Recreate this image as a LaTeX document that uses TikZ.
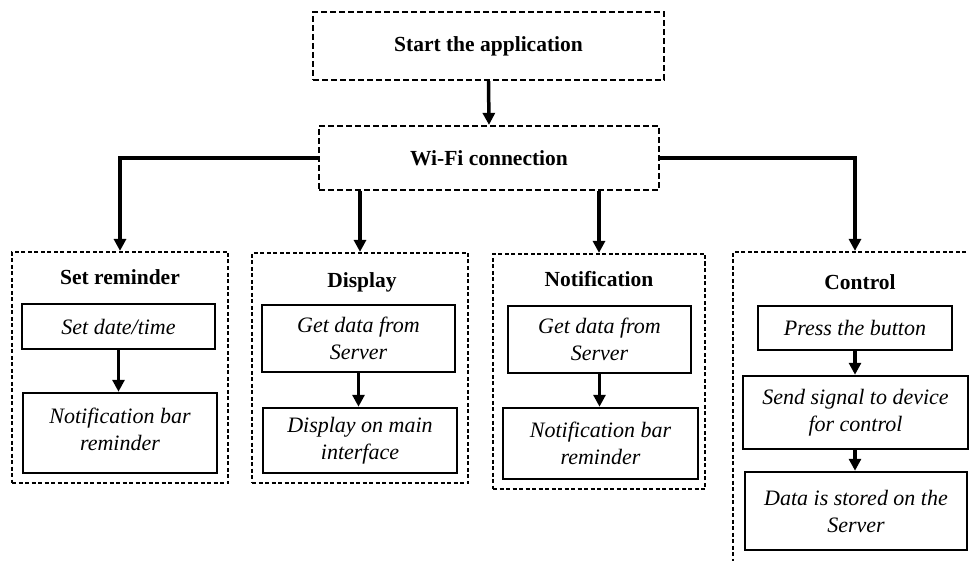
\documentclass[tikz,border=0pt]{standalone}
\usepackage{fontspec}
\setmainfont{Liberation Serif}
\usetikzlibrary{arrows.meta}

\tikzset{topbox/.style={draw,dash pattern=on 6pt off 3pt,line width=2.2pt,font=\fontsize{21.5}{26}\selectfont\bfseries},
groupbox/.style={draw,dash pattern=on 4pt off 2.5pt,line width=2.2pt,inner sep=0pt},
grouptitle/.style={font=\fontsize{21.5}{26}\selectfont\bfseries},
stepbox/.style={draw,line width=2.5pt,align=center,inner sep=2pt,font=\fontsize{22}{27}\selectfont\itshape},
arr/.style={line width=3.5pt,-{Triangle[width=12pt,length=12pt]}}}

\begin{document}
\begin{tikzpicture}[x=1pt,y=-1pt]
\clip (0,0) rectangle (969,561);
\node[topbox,minimum width=351pt,minimum height=68pt] (start) at (488.5,46) {Start the application};
\node[topbox,minimum width=340pt,minimum height=64pt] (wifi) at (489,158) {Wi-Fi connection};
\node[groupbox,minimum width=216pt,minimum height=231pt] (sr) at (120,367.5) {};
\node[groupbox,minimum width=216pt,minimum height=230pt] (disp) at (360,368) {};
\node[groupbox,minimum width=212pt,minimum height=235pt] (notif) at (599,371.5) {};
\node[groupbox,minimum width=244pt,minimum height=356pt] (ctrl) at (855,430) {};
\node[grouptitle] (srtitle) at (120,277) {Set reminder};
\node[grouptitle] (disptitle) at (362,282) {Display};
\node[grouptitle] (notiftitle) at (599,279) {Notification};
\node[grouptitle] (ctrltitle) at (860,282) {Control};
\node[stepbox,minimum width=193pt,minimum height=45pt] (sr1) at (118.5,326.5) {Set date/time};
\node[stepbox,minimum width=194pt,minimum height=80pt] (sr2) at (120,433) {Notification bar\\reminder\rule[-8pt]{0pt}{8pt}};
\node[stepbox,minimum width=193pt,minimum height=67pt] (d1) at (358.5,338.5) {Get data from\\Server};
\node[stepbox,minimum width=194pt,minimum height=65pt] (d2) at (360,440.5) {Display on main\\interface};
\node[stepbox,minimum width=183pt,minimum height=67pt] (n1) at (599.5,339.5) {Get data from\\Server};
\node[stepbox,minimum width=195pt,minimum height=71pt] (n2) at (600.5,443.5) {Notification bar\\reminder};
\node[stepbox,minimum width=194pt,minimum height=44pt] (c1) at (855,328) {Press the button};
\node[stepbox,minimum width=225pt,minimum height=73pt] (c2) at (855.5,412.5) {Send signal to device\\for control};
\node[stepbox,minimum width=222pt,minimum height=78pt] (c3) at (856,511) {Data is stored on the\\Server};

\draw[arr] (start.south) -- (wifi.north);
\draw[arr] (wifi.west) -| (sr.north);
\draw[arr] (wifi.east) -| (ctrl.north);
\draw[arr] (disp.north |- wifi.south) -- (disp.north);
\draw[arr] (notif.north |- wifi.south) -- (notif.north);
\draw[arr] (sr1.south) -- (sr1.south |- sr2.north);
\draw[arr] (d1.south) -- (d1.south |- d2.north);
\draw[arr] (n1.south) -- (n1.south |- n2.north);
\draw[arr] (c1.south) -- (c1.south |- c2.north);
\draw[arr] (c1.south |- c2.south) -- (c1.south |- c3.north);

\end{tikzpicture}
\end{document}
